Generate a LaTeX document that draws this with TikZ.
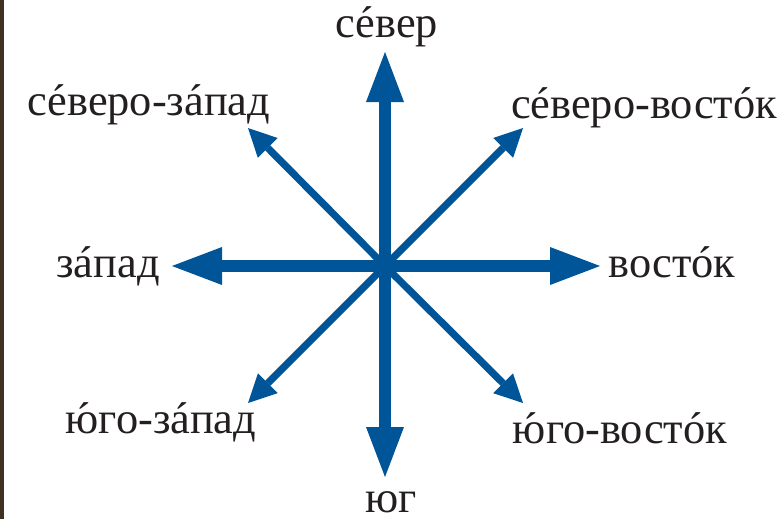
\documentclass[tikz,border=0pt]{standalone}
\usepackage{fontspec}
\newfontfamily\labelfont{Liberation Serif}[Script=Cyrillic]
\usetikzlibrary{arrows.meta}
\definecolor{compassblue}{RGB}{0,84,152}
\definecolor{edgestrip}{RGB}{64,50,34}
\definecolor{labelink}{RGB}{35,31,32}
% stressed vowel: acute set over the letter
\newcommand\stressmark[1]{\ooalign{#1\cr\hidewidth\kern0.08em ´\hidewidth\cr}}
\tikzset{
  mainarrow/.style={draw=compassblue, line width=6pt, -{Triangle[length=25pt,width=19pt,line width=0pt]}},
  sidearrow/.style={draw=compassblue, line width=3.6pt, -{Triangle[length=14pt,width=14pt,line width=0pt]}},
  dirlabel/.style={anchor=base, text=labelink, inner sep=0pt, font=\labelfont\fontsize{22.2}{26}\selectfont}
}
\begin{document}
\begin{tikzpicture}[x=0.5pt,y=-0.5pt]
\useasboundingbox (0,0) rectangle (779,519);
\fill[edgestrip] (0,0) rectangle (4,519);
% centre and arrow ends
\coordinate (c) at (385,266);
\coordinate (n) at (385,52);
\coordinate (s) at (385,477);
\coordinate (w) at (172,266);
\coordinate (e) at (600,266);
\coordinate (nw) at (248,128);
\coordinate (ne) at (523,128);
\coordinate (sw) at (248,403);
\coordinate (se) at (523,403);
\draw[sidearrow] (c) -- (nw);
\draw[sidearrow] (c) -- (ne);
\draw[sidearrow] (c) -- (sw);
\draw[sidearrow] (c) -- (se);
\draw[mainarrow] (c) -- (n);
\draw[mainarrow] (c) -- (s);
\draw[mainarrow] (c) -- (w);
\draw[mainarrow] (c) -- (e);
% labels
\node[dirlabel] (north) at (387,38) {с\stressmark{е}вер};
\node[dirlabel] (northwest) at (149,115) {с\stressmark{е}веро-з\stressmark{а}пад};
\node[dirlabel] (northeast) at (644,118) {с\stressmark{е}веро-вост\stressmark{о}к};
\node[dirlabel] (west) at (108,277) {з\stressmark{а}пад};
\node[dirlabel] (east) at (672,277) {вост\stressmark{о}к};
\node[dirlabel] (southwest) at (161,433) {\stressmark{ю}го-з\stressmark{а}пад};
\node[dirlabel] (southeast) at (620,443) {\stressmark{ю}го-вост\stressmark{о}к};
\node[dirlabel] (south) at (391,512) {юг};
\end{tikzpicture}
\end{document}
